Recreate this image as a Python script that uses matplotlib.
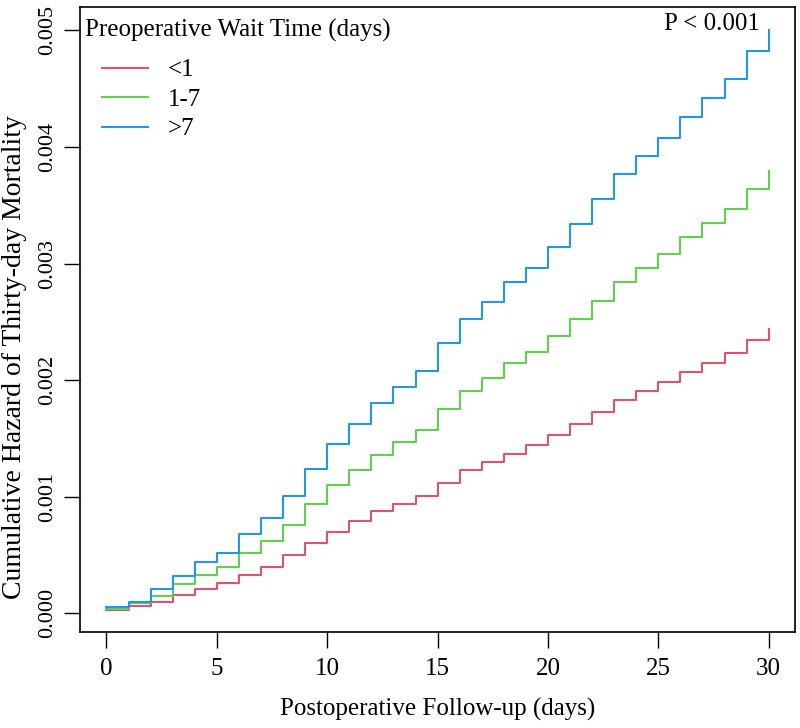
import matplotlib
matplotlib.use("Agg")
import matplotlib.pyplot as plt

plt.rcParams['font.family'] = ['Liberation Serif', 'DejaVu Serif']

# follow-up day at which each step starts (0..30), last entry closes the curve at day 30
days = list(range(31)) + [30]

haz_lt1 = [0.00003, 0.00006, 0.00010, 0.00016, 0.00021, 0.00026, 0.00033, 0.00040,
           0.00050, 0.00060, 0.00070, 0.00079, 0.00088, 0.00094, 0.00101, 0.00112,
           0.00123, 0.00130, 0.00137, 0.00144, 0.00153, 0.00162, 0.00173, 0.00183,
           0.00191, 0.00198, 0.00207, 0.00215, 0.00223, 0.00234, 0.00244]
haz_1to7 = [0.00004, 0.00009, 0.00015, 0.00025, 0.00033, 0.00040, 0.00052, 0.00062,
            0.00076, 0.00094, 0.00110, 0.00123, 0.00136, 0.00147, 0.00157, 0.00175,
            0.00191, 0.00202, 0.00215, 0.00224, 0.00238, 0.00252, 0.00268, 0.00284,
            0.00296, 0.00308, 0.00323, 0.00335, 0.00347, 0.00364, 0.00379]
haz_gt7 = [0.00005, 0.00010, 0.00021, 0.00032, 0.00044, 0.00052, 0.00068, 0.00082,
           0.00101, 0.00124, 0.00145, 0.00162, 0.00180, 0.00194, 0.00208, 0.00232,
           0.00252, 0.00267, 0.00284, 0.00296, 0.00314, 0.00334, 0.00355, 0.00377,
           0.00392, 0.00408, 0.00426, 0.00442, 0.00458, 0.00482, 0.00500]

groups = ["<1", "1-7", ">7"]
colors = ["#DF536B", "#61D04F", "#2297E6"]

x_ticks = [0, 5, 10, 15, 20, 25, 30]
y_ticks = [0.000, 0.001, 0.002, 0.003, 0.004, 0.005]

fig = plt.figure(figsize=(8, 7.28), dpi=100)
ax = fig.add_axes([0.1, 0.1319, 0.894, 0.8585])

# step lines (last value repeated to draw the final jump at day 30)
for vals, lab, col in zip([haz_lt1, haz_1to7, haz_gt7], groups, colors):
    ax.step(days, vals + [vals[-1]], where="post", color=col, lw=1.5, label=lab)

ax.set_xlim(-1.2, 31.2)
ax.set_ylim(-0.00016, 0.0052)
ax.set_xticks(x_ticks)
ax.set_yticks(y_ticks)
ax.set_yticklabels(["%.3f" % v for v in y_ticks], rotation=90, va="center")
ax.tick_params(axis="both", direction="out", length=11.5, width=1, pad=5)
ax.tick_params(axis="x", labelsize=18, pad=7)
ax.tick_params(axis="y", labelsize=16)
for s in ax.spines.values():
    s.set_linewidth(1.2)

ax.set_xlabel("Postoperative Follow-up (days)", fontsize=18, labelpad=13)
ax.set_ylabel("Cumulative Hazard of Thirty-day Mortality", fontsize=20)
ax.yaxis.set_label_coords(-0.074, 0.44)

ax.text(29.6, 0.00505, "P < 0.001", fontsize=18, ha="right", va="center")

ax.text(0.007, 0.963, "Preoperative Wait Time (days)", fontsize=18,
        ha="left", va="center", transform=ax.transAxes)
ax.legend(loc="upper left", bbox_to_anchor=(0.031, 0.917), frameon=False,
          fontsize=18, handlelength=1.84, handletextpad=0.8,
          labelspacing=0.28, borderaxespad=0, borderpad=0)

fig.savefig("out.png", dpi=100)
